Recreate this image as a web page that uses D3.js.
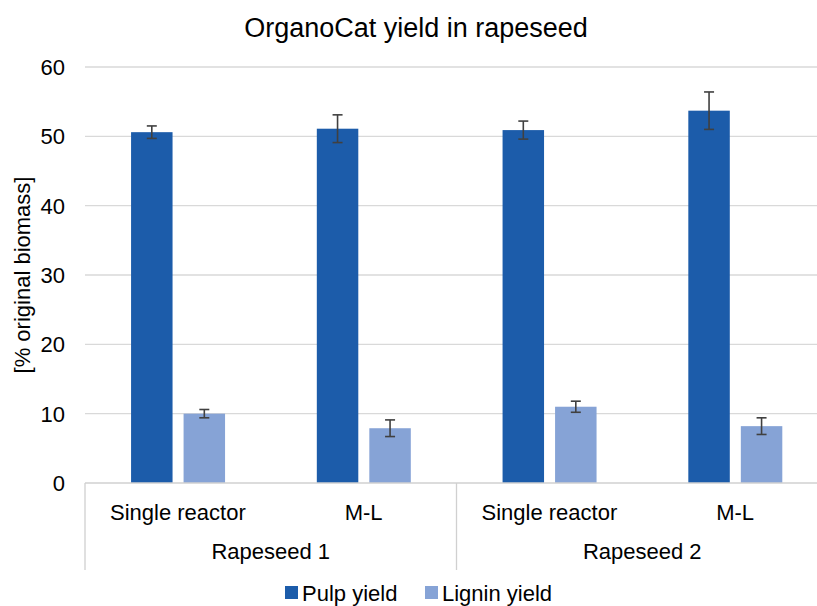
<!DOCTYPE html>
<html>
<head>
<meta charset="utf-8">
<script src="https://cdn.jsdelivr.net/npm/d3@7"></script>
<style>
  body { margin: 0; background: #fff; }
  text { font-family: "Liberation Sans", Arial, sans-serif; fill: #000; }
</style>
</head>
<body>
<script>
// data
var groups = ["Rapeseed 1", "Rapeseed 2"];
var setups = ["Single reactor", "M-L"];
var categories = ["Rapeseed 1|Single reactor", "Rapeseed 1|M-L", "Rapeseed 2|Single reactor", "Rapeseed 2|M-L"];
var seriesNames = ["Pulp yield", "Lignin yield"];
var pulpYield = [50.6, 51.1, 50.9, 53.7];
var pulpErr = [0.9, 2.0, 1.3, 2.7];
var ligninYield = [10.0, 7.9, 11.0, 8.2];
var ligninErr = [0.6, 1.2, 0.8, 1.2];
var yTicks = [0, 10, 20, 30, 40, 50, 60];
var colors = ["#1c5caa", "#86a3d6"];

var w = 817, h = 606;
var plotLeft = 85, plotRight = 828, plotTop = 67, plotBottom = 483;

var svg = d3.select("body").append("svg")
    .attr("width", w)
    .attr("height", h);

var y = d3.scaleLinear().domain([0, 60]).range([plotBottom, plotTop]);

var x = d3.scaleBand().domain(categories).range([plotLeft, plotRight]).padding(0);
var xs = d3.scaleBand().domain(seriesNames)
    .range([x.bandwidth() * 0.248, x.bandwidth() * 0.754])
    .paddingInner(0.21);

// gridlines
svg.append("g").selectAll("line")
    .data(yTicks.filter(function(d){ return d > 0; }))
    .enter().append("line")
    .attr("x1", plotLeft).attr("x2", w)
    .attr("y1", function(d){ return y(d); })
    .attr("y2", function(d){ return y(d); })
    .style("stroke", "#d9d9d9")
    .style("stroke-width", 1.3);

// y tick labels
svg.append("g").selectAll("text")
    .data(yTicks)
    .enter().append("text")
    .attr("x", 65)
    .attr("y", function(d){ return y(d) + 8; })
    .attr("text-anchor", "end")
    .style("font-size", "22px")
    .text(function(d){ return d; });

// y axis title
svg.append("text")
    .attr("transform", "translate(30," + ((plotTop + plotBottom) / 2) + ") rotate(-90)")
    .attr("text-anchor", "middle")
    .style("font-size", "22px")
    .text("[% original biomass]");

// title
svg.append("text")
    .attr("x", 416).attr("y", 37)
    .attr("text-anchor", "middle")
    .style("font-size", "27px")
    .text("OrganoCat yield in rapeseed");

var rows = categories.map(function(c, i){
    return [
        { cat: c, s: seriesNames[0], v: pulpYield[i], e: pulpErr[i] },
        { cat: c, s: seriesNames[1], v: ligninYield[i], e: ligninErr[i] }
    ];
});
var flat = [].concat.apply([], rows);

// bars
svg.append("g").selectAll("rect")
    .data(flat)
    .enter().append("rect")
    .attr("x", function(d){ return x(d.cat) + xs(d.s); })
    .attr("y", function(d){ return y(d.v); })
    .attr("width", xs.bandwidth())
    .attr("height", function(d){ return y(0) - y(d.v); })
    .style("fill", function(d){ return colors[seriesNames.indexOf(d.s)]; });

// error bars
var eb = svg.append("g").selectAll("g")
    .data(flat)
    .enter().append("g")
    .style("stroke", "#404040")
    .style("stroke-width", 1.6);
eb.append("line")
    .attr("x1", function(d){ return x(d.cat) + xs(d.s) + xs.bandwidth() / 2; })
    .attr("x2", function(d){ return x(d.cat) + xs(d.s) + xs.bandwidth() / 2; })
    .attr("y1", function(d){ return y(d.v + d.e); })
    .attr("y2", function(d){ return y(d.v - d.e); });
eb.selectAll(".cap")
    .data(function(d){ return [d.v + d.e, d.v - d.e].map(function(v){ return { d: d, v: v }; }); })
    .enter().append("line")
    .attr("class", "cap")
    .attr("x1", function(o){ return x(o.d.cat) + xs(o.d.s) + xs.bandwidth() / 2 - 5; })
    .attr("x2", function(o){ return x(o.d.cat) + xs(o.d.s) + xs.bandwidth() / 2 + 5; })
    .attr("y1", function(o){ return y(o.v); })
    .attr("y2", function(o){ return y(o.v); });

// category axis
var axisColor = "#d0d0d0";
svg.append("line")
    .attr("x1", plotLeft).attr("x2", w)
    .attr("y1", y(0)).attr("y2", y(0))
    .style("stroke", axisColor).style("stroke-width", 1.3);

var groupBands = d3.scaleBand().domain(groups).range([plotLeft, plotRight]);
svg.append("g").selectAll("line")
    .data(groups)
    .enter().append("line")
    .attr("x1", function(d){ return groupBands(d); })
    .attr("x2", function(d){ return groupBands(d); })
    .attr("y1", y(0)).attr("y2", 570)
    .style("stroke", axisColor).style("stroke-width", 1.3);

svg.append("g").selectAll("text")
    .data(categories)
    .enter().append("text")
    .attr("x", function(d){ return x(d) + x.bandwidth() / 2; })
    .attr("y", 520)
    .attr("text-anchor", "middle")
    .style("font-size", "22px")
    .text(function(d){ return d.split("|")[1]; });

svg.append("g").selectAll("text")
    .data(groups)
    .enter().append("text")
    .attr("x", function(d){ return groupBands(d) + groupBands.bandwidth() / 2; })
    .attr("y", 559)
    .attr("text-anchor", "middle")
    .style("font-size", "22px")
    .text(function(d){ return d; });

// legend
var legendX = [285, 425];
var lg = svg.append("g").selectAll("g")
    .data(seriesNames)
    .enter().append("g")
    .attr("transform", function(d, i){ return "translate(" + legendX[i] + ",586)"; });
lg.append("rect")
    .attr("width", 13).attr("height", 13)
    .style("fill", function(d, i){ return colors[i]; });
lg.append("text")
    .attr("x", 17).attr("y", 15)
    .style("font-size", "22px")
    .text(function(d){ return d; });
</script>
</body>
</html>
